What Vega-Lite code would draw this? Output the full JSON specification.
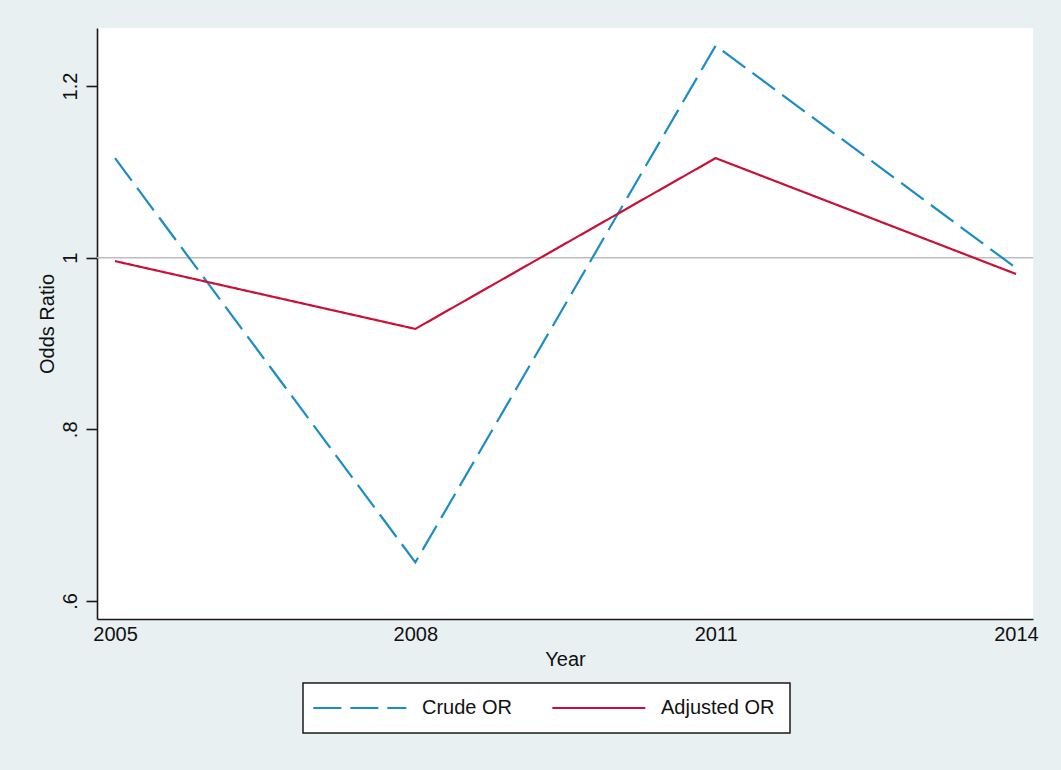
{
  "$schema": "https://vega.github.io/schema/vega-lite/v6.json",
  "width": 936,
  "height": 591,
  "autosize": {"type": "none"},
  "padding": {"left": 97, "top": 28, "right": 28, "bottom": 151},
  "background": "#E8F0F2",
  "config": {
    "font": "Liberation Sans",
    "view": {"fill": "white", "stroke": null},
    "axis": {
      "domainColor": "#1a1a1a",
      "domainWidth": 1.6,
      "tickColor": "#1a1a1a",
      "tickWidth": 1.6,
      "labelFontSize": 20,
      "labelColor": "#111",
      "labelFont": "Liberation Sans",
      "titleFontSize": 20,
      "titleFontWeight": "normal",
      "titleColor": "#111",
      "titleFont": "Liberation Sans",
      "grid": false
    },
    "legend": {
      "orient": "none",
      "legendX": 206,
      "legendY": 655,
      "direction": "horizontal",
      "fillColor": "white",
      "strokeColor": "#1a1a1a",
      "strokeWidth": 1.5,
      "padding": 15,
      "symbolType": "M-3.15,0H16.85",
      "symbolSize": 86.5,
      "symbolStrokeWidth": 2.2,
      "symbolFillColor": "transparent",
      "labelFontSize": 20,
      "labelFont": "Liberation Sans",
      "labelColor": "#111",
      "labelLimit": 400,
      "labelOffset": 84,
      "columnPadding": 34
    }
  },
  "layer": [
    {
      "data": {"values": [{"ref": 1}]},
      "mark": {"type": "rule", "color": "#BDBDBD", "strokeWidth": 1.5},
      "encoding": {
        "y": {"field": "ref", "type": "quantitative"}
      }
    },
    {
      "data": {
        "values": [
          {"year": 2005, "series": "Crude OR", "or": 1.116},
          {"year": 2008, "series": "Crude OR", "or": 0.645},
          {"year": 2011, "series": "Crude OR", "or": 1.247},
          {"year": 2014, "series": "Crude OR", "or": 0.988},
          {"year": 2005, "series": "Adjusted OR", "or": 0.996},
          {"year": 2008, "series": "Adjusted OR", "or": 0.917},
          {"year": 2011, "series": "Adjusted OR", "or": 1.116},
          {"year": 2014, "series": "Adjusted OR", "or": 0.981}
        ]
      },
      "mark": {"type": "line", "strokeWidth": 2.2},
      "encoding": {
        "x": {
          "field": "year",
          "type": "quantitative",
          "scale": {"domain": [2004.82, 2014.17], "nice": false, "zero": false},
          "axis": {
            "values": [2005, 2008, 2011, 2014],
            "format": "d",
            "ticks": false,
            "labelPadding": 5,
            "title": "Year",
            "titlePadding": 5
          }
        },
        "y": {
          "field": "or",
          "type": "quantitative",
          "scale": {"domain": [0.579, 1.2676], "nice": false, "zero": false},
          "axis": {
            "values": [0.6, 0.8, 1, 1.2],
            "format": ".1~f",
            "labelExpr": "datum.value < 1 ? substring(datum.label, 1) : datum.label",
            "labelAngle": -90,
            "labelAlign": "center",
            "labelBaseline": "bottom",
            "labelPadding": 6,
            "tickSize": 11,
            "title": "Odds Ratio",
            "titlePadding": 3
          }
        },
        "color": {
          "field": "series",
          "type": "nominal",
          "scale": {"domain": ["Crude OR", "Adjusted OR"], "range": ["#1A8DC4", "#C8103A"]},
          "legend": {"title": null}
        },
        "strokeDash": {
          "field": "series",
          "type": "nominal",
          "scale": {"domain": ["Crude OR", "Adjusted OR"], "range": [[28, 9], [1, 0]]},
          "legend": {"title": null}
        }
      }
    }
  ]
}
